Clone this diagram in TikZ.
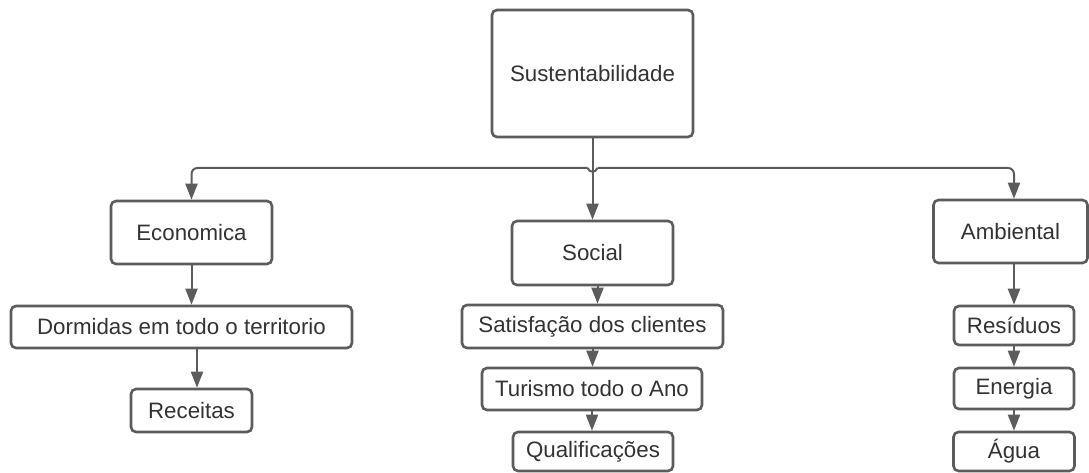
\documentclass[tikz,border=0pt]{standalone}
\usepackage{fontspec}
\setmainfont{Liberation Sans}
\usetikzlibrary{arrows.meta}
\definecolor{linecol}{HTML}{5C5C5C}
\definecolor{textcol}{HTML}{333333}
\begin{document}
\begin{tikzpicture}[x=1pt,y=-1pt,
  box/.style={draw=linecol, line width=2.6pt, rounded corners=5pt, fill=white,
    inner sep=0pt, text=textcol, font=\fontsize{22.3}{26}\selectfont},
  conn/.style={draw=linecol, line width=2pt, -{Triangle[length=16pt,width=12pt]}},
  plain/.style={draw=linecol, line width=2pt}]
\useasboundingbox (0,0) rectangle (1089,473);
% nodes
\node[box, minimum width=201pt, minimum height=127pt] (sust) at (592.5,73.5) {Sustentabilidade};
\node[box, minimum width=161pt, minimum height=63pt] (eco) at (191.5,232.5) {Economica};
\node[box, minimum width=161pt, minimum height=64pt] (soc) at (592.5,253) {Social};
\node[box, minimum width=154pt, minimum height=63pt] (amb) at (1010.5,231.5) {Ambiental};
\node[box, minimum width=341pt, minimum height=42pt] (dorm) at (181.5,327) {Dormidas em todo o territorio};
\node[box, minimum width=121pt, minimum height=43pt] (rec) at (191.5,410.5) {Receitas};
\node[box, minimum width=261pt, minimum height=43pt] (sat) at (592.5,326.5) {Satisfação dos clientes};
\node[box, minimum width=220pt, minimum height=42pt] (tur) at (592,389) {Turismo todo o Ano};
\node[box, minimum width=160pt, minimum height=39pt] (qual) at (593,451.5) {Qualificações};
\node[box, minimum width=120pt, minimum height=39pt] (res) at (1014,325.5) {Resíduos};
\node[box, minimum width=120pt, minimum height=41pt] (ene) at (1014,388.5) {Energia};
\node[box, minimum width=121pt, minimum height=39pt] (agua) at (1014,451.5) {Água};
% junction
\coordinate (j) at (sust.south |- 0,168);
\coordinate (jl) at ([xshift=-5pt]j);
\coordinate (jr) at ([xshift=5pt]j);
% connectors from top
\draw[conn] (sust.south) -- (soc.north);
\draw[conn, rounded corners=6pt] (jl) -| (eco.north);
\draw[conn, rounded corners=6pt] (jr) -| ([xshift=3.5pt]amb.north);
\draw[plain] (jl) .. controls ([xshift=2pt,yshift=-5pt]jl) and ([xshift=-2pt,yshift=-5pt]jr) .. (jr);
% economica column
\draw[conn] (eco.south) -- (eco.south |- dorm.north);
\draw[conn] ([xshift=15.5pt]dorm.south) -- ([xshift=15.5pt]dorm.south |- rec.north);
% social column
\draw[conn] ([xshift=5pt]soc.south) -- ([xshift=5pt]soc.south |- sat.north);
\draw[conn] (sat.south) -- (sat.south |- tur.north);
\draw[conn] (tur.south) -- (tur.south |- qual.north);
% ambiental column
\draw[conn] ([xshift=3.5pt]amb.south) -- ([xshift=3.5pt]amb.south |- res.north);
\draw[conn] (res.south) -- (ene.north);
\draw[conn] (ene.south) -- (agua.north);
\end{tikzpicture}
\end{document}
